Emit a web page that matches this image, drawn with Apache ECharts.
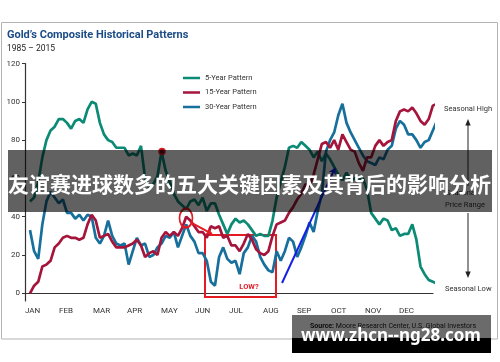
<!DOCTYPE html>
<html><head><meta charset="utf-8">
<script src="https://cdn.jsdelivr.net/npm/echarts@6/dist/echarts.min.js"></script>
<style>html,body{margin:0;padding:0;background:#fff}#c{width:500px;height:362px}</style>
</head><body><div id="c"></div>
<script>
// ---- data ----
const months = ['JAN','FEB','MAR','APR','MAY','JUN','JUL','AUG','SEP','OCT','NOV','DEC'];
const monthStarts = [0,1,2,3,4,5,6,7,8,9,10,11];
const yTicks = [0,20,40,60,80,100,120];
const xStart = 0.147;   // month position of first sample
const xStep = 0.1209;   // months between samples
const seriesNames = ['5-Year Pattern','15-Year Pattern','30-Year Pattern'];
const fiveYear = [48,50,58,71,80,85,87,91,91,89,86,90,91,89,96,100,99,89,83,80,
  79,76,76,76,72,73,72,77,60,55,57,61,74,64,58,52,48,46,44,48,
  49,46,50,43,47,47,41,36,31,36,39,37,38,36,33,30,31,30,30,38,
  50,58,66,76,77,76,79,77,75,71,74,69,73,70,66,62,59,63,59,60,
  60,60,54,42,39,36,39,38,33,34,30,31,31,36,28,14,10,7,6,5];
const fifteenYear = [0,4,6,14,15,17,24,26,29,30,29,29,28,29,36,41,38,29,30,31,
  27,24,24,24,25,26,28,25,19,21,22,20,29,32,30,32,30,34,40,38,
  35,32,32,29,35,34,35,29,30,25,25,22,26,31,28,23,21,20,22,30,
  36,37,38,42,45,49,52,57,56,62,70,78,79,76,80,75,83,79,75,74,
  68,64,71,71,77,80,77,79,80,90,95,96,95,97,94,90,88,91,98,99];
const thirtyYear = [33,22,18,36,48,53,50,47,49,42,42,39,41,38,41,40,29,26,30,38,
  30,26,25,26,15,22,29,25,26,19,20,24,26,30,29,32,24,30,36,30,
  27,21,21,17,6,4,19,24,18,16,17,10,21,24,30,27,19,15,12,11,
  22,17,22,29,27,19,24,30,37,32,43,52,74,80,84,93,99,89,84,80,
  76,72,69,68,67,71,70,75,77,86,90,88,83,83,80,76,79,80,85,90];
// annotation anchors (data space: month, value)
const peakMark = [4.03, 74];
const lowCircle = [4.735, 39.3];
const lowArrow = [[4.912, 36.7], [5.5, 31.0]];
const lowBox = [[5.294, 30.4], [7.382, -1.9]];
const lowLabel = [6.588, 3.3];
const trendLine = [[7.56, 5.4], [9.118, 65.4]];

const colors = ['#0b8a76', '#a5153b', '#176f9c'];
const toXY = arr => arr.map((v, i) => [xStart + i * xStep, v]);
const RED = '#e31b23';
const F = 'Roboto, "Liberation Sans", sans-serif';

const chart = echarts.init(document.getElementById('c'), null, {renderer: 'canvas'});
const baseLine = (name, data, color, extra) => Object.assign({
  name, type: 'line', data: toXY(data), showSymbol: false, clip: false,
  lineStyle: {color, width: 2.7}, itemStyle: {color}, silent: true, animation: false
}, extra || {});

chart.setOption({
  animation: false,
  grid: {left: 25, top: 63.5, width: 408, height: 237.5},
  legend: {
    orient: 'vertical', left: 183, top: 73, padding: 0, itemGap: 4.5,
    itemWidth: 17, itemHeight: 2.5, icon: 'rect', selectedMode: false,
    textStyle: {fontSize: 7.5, color: '#333', fontFamily: F, lineHeight: 10},
    data: seriesNames
  },
  xAxis: {
    type: 'value', min: 0, max: 12,
    axisLine: {show: true, lineStyle: {color: '#333', width: 1.2}},
    axisTick: {show: false}, splitLine: {show: false},
    axisLabel: {customValues: monthStarts, formatter: v => months[Math.round(v)],
      align: 'left', fontSize: 8, color: '#333', fontFamily: F, margin: 6}
  },
  yAxis: {
    type: 'value', min: -4, max: 120,
    axisLine: {show: true, lineStyle: {color: '#333', width: 1.2}},
    axisTick: {show: true, customValues: yTicks, length: 3, lineStyle: {color: '#333'}},
    splitLine: {show: false},
    axisLabel: {customValues: yTicks, fontSize: 8, color: '#333', fontFamily: F, margin: 5}
  },
  series: [
    baseLine(seriesNames[0], fiveYear, colors[0], {
      markPoint: {silent: true, animation: false, label: {show: false},
        data: [{coord: peakMark, symbol: 'circle', symbolSize: 6,
          itemStyle: {color: '#6a0a18', borderColor: RED, borderWidth: 1.5}}]}
    }),
    baseLine(seriesNames[2], thirtyYear, colors[2], {
      markLine: {silent: true, animation: false, symbol: ['none', 'arrow'], symbolSize: 6,
        label: {show: false}, lineStyle: {color: '#1420e6', width: 2, type: 'solid'},
        data: [[{coord: trendLine[0]}, {coord: trendLine[1]}]]}
    }),
    baseLine(seriesNames[1], fifteenYear, colors[1], {
      markArea: {silent: true, animation: false, label: {show: false},
        itemStyle: {color: 'rgba(0,0,0,0)', borderColor: RED, borderWidth: 2},
        data: [[{coord: lowBox[0]}, {coord: lowBox[1]}]]},
      markLine: {silent: true, animation: false, symbol: ['none', 'arrow'], symbolSize: 6,
        label: {show: false}, lineStyle: {color: RED, width: 2, type: 'solid'},
        data: [[{coord: lowArrow[0]}, {coord: lowArrow[1]}]]},
      markPoint: {silent: true, animation: false,
        data: [
          {coord: lowCircle, symbol: 'circle', symbolSize: [13, 19],
            itemStyle: {color: 'rgba(0,0,0,0)', borderColor: RED, borderWidth: 2},
            label: {show: false}},
          {coord: lowLabel, symbol: 'rect', symbolSize: 1,
            itemStyle: {color: 'rgba(0,0,0,0)'},
            label: {show: true, position: 'inside', formatter: 'LOW?', color: RED,
              fontSize: 7.5, fontWeight: 'bold', fontFamily: F}}
        ]}
    })
  ],
  graphic: [
    {type: 'rect', z: -1, shape: {x: 1.5, y: 22.5, width: 496, height: 316.5},
      style: {fill: 'none', stroke: '#b3b3b3', lineWidth: 1}},
    {type: 'text', x: 7, y: 35, z: 10, style: {text: 'Gold\u2019s Composite Historical Patterns',
      fill: '#1c4c87', font: 'bold 11px "Liberation Sans Narrow", Roboto, sans-serif', verticalAlign: 'middle'}},
    {type: 'text', x: 7, y: 49, z: 10, style: {text: '1985 \u2013 2015',
      fill: '#222', font: '8.5px ' + F, verticalAlign: 'middle'}},
    {type: 'text', x: 444, y: 109, z: 10, style: {text: 'Seasonal High', fill: '#333', font: '7.5px ' + F, verticalAlign: 'middle'}},
    {type: 'text', x: 446, y: 193, z: 10, style: {text: 'Seasonal', fill: '#333', font: '7.5px ' + F, verticalAlign: 'middle'}},
    {type: 'text', x: 445, y: 205, z: 10, style: {text: 'Price Range', fill: '#333', font: '7.5px ' + F, verticalAlign: 'middle'}},
    {type: 'text', x: 445, y: 289, z: 10, style: {text: 'Seasonal Low', fill: '#333', font: '7.5px ' + F, verticalAlign: 'middle'}},
    {type: 'line', z: 10, shape: {x1: 468, y1: 124, x2: 468, y2: 186}, style: {stroke: '#222', lineWidth: 1}},
    {type: 'polygon', z: 10, shape: {points: [[465.3, 125.5], [470.7, 125.5], [468, 119]]}, style: {fill: '#222'}},
    {type: 'line', z: 10, shape: {x1: 468, y1: 213, x2: 468, y2: 273}, style: {stroke: '#222', lineWidth: 1}},
    {type: 'polygon', z: 10, shape: {points: [[465.3, 271.5], [470.7, 271.5], [468, 278]]}, style: {fill: '#222'}},
    {type: 'text', x: 310, y: 326, z: 50, style: {text: '{b|Source:} Moore Research Center, U.S. Global Investors',
      fill: '#222', font: '7px ' + F, verticalAlign: 'middle',
      rich: {b: {fontWeight: 'bold', fontSize: 7, fontFamily: F, fill: '#222'}}}},
    // overlay band
    {type: 'rect', z: 100, shape: {x: 8, y: 150, width: 484, height: 62}, style: {fill: 'rgba(0,0,0,0.62)'}},
    {type: 'text', x: 249.5, y: 184, z: 101, style: {text: '友谊赛进球数多的五大关键因素及其背后的影响分析',
      fill: '#fff', font: 'bold 21px "Noto Sans CJK SC", sans-serif', align: 'center', verticalAlign: 'middle'}},
    // watermark box
    {type: 'rect', z: 102, shape: {x: 292, y: 315, width: 199, height: 23}, style: {fill: 'rgba(0,0,0,0.58)'}},
    {type: 'rect', z: 102, shape: {x: 292, y: 338, width: 199, height: 15}, style: {fill: '#000'}},
    {type: 'text', x: 391, y: 336, z: 103, style: {text: 'www.zhcn--ng28.com',
      fill: '#fff', font: 'bold 17px "Noto Sans", sans-serif', align: 'center', verticalAlign: 'middle'}}
  ]
});
</script>
</body></html>
